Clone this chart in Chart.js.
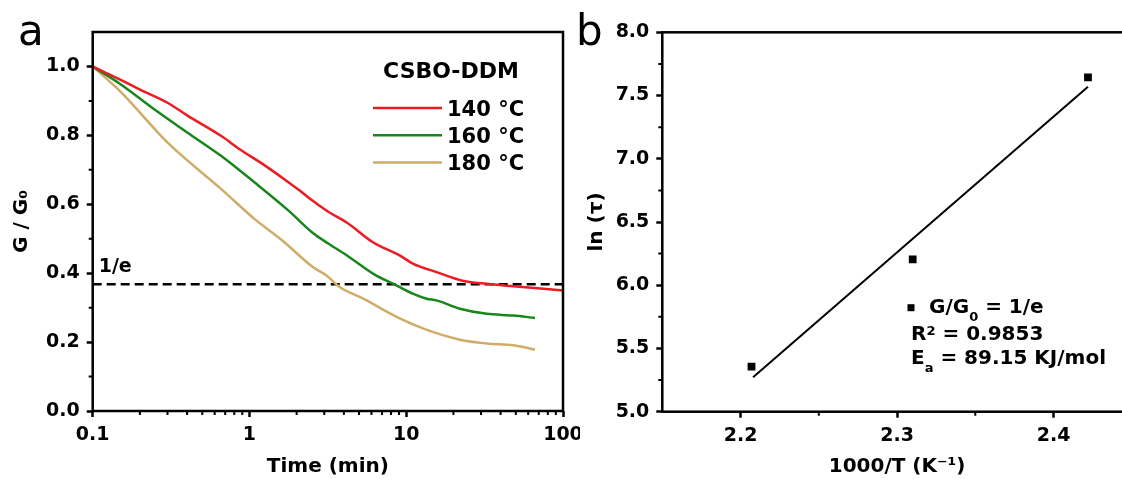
<!DOCTYPE html>
<html>
<head>
<meta charset="utf-8">
<script src="https://cdn.jsdelivr.net/npm/chart.js@4.4.1/dist/chart.umd.min.js"></script>
<style>
    html, body { margin: 0; padding: 0; background: #fff; overflow: hidden; width: 1122px; height: 479px; }
    .panel { position: absolute; top: 0; height: 479px; overflow: hidden; }
    .panel > div { position: relative; height: 479px; }
    #panel-a { left: 0; width: 580px; }
    #panel-a > div { width: 600px; }
    #panel-b { left: 560px; width: 580px; }
    #panel-b > div { width: 580px; }
</style>
</head>
<body>
<div class="panel" id="panel-a"><div><canvas id="chartA"></canvas></div></div>
<div class="panel" id="panel-b"><div><canvas id="chartB"></canvas></div></div>

<script>
// ─── Panel a: G/G0 relaxation curves ──────────────────────────────────────────
const legendTitleA = 'CSBO-DDM';
const seriesLabels = ['140 °C', '160 °C', '180 °C'];
const seriesColors = ['#ec1c24', '#17861c', '#cfad67'];

const time140 = [0.1, 0.152, 0.2, 0.302, 0.4, 0.661, 0.87, 1.25, 1.7, 2.1, 2.48, 2.96, 3.16, 4.17, 6.17, 9.12, 11.1, 15.6, 22.5, 32.6, 48.2, 100];
const ratio140 = [1.0, 0.960, 0.933, 0.894, 0.858, 0.798, 0.759, 0.713, 0.670, 0.639, 0.613, 0.588, 0.579, 0.547, 0.489, 0.451, 0.427, 0.403, 0.379, 0.369, 0.362, 0.350];

const time160 = [0.1, 0.152, 0.248, 0.405, 0.661, 1.08, 1.76, 2.55, 3.16, 4.17, 6.17, 8.69, 11.1, 13.5, 15.6, 22.0, 32.6, 48.2, 66.2];
const ratio160 = [1.0, 0.947, 0.875, 0.807, 0.740, 0.663, 0.583, 0.516, 0.487, 0.452, 0.398, 0.364, 0.340, 0.326, 0.321, 0.297, 0.282, 0.277, 0.270];

const time180 = [0.1, 0.152, 0.302, 0.661, 1.08, 1.6, 2.55, 3.10, 3.78, 5.32, 8.69, 12.9, 22.0, 32.6, 48.2, 66.2];
const ratio180 = [1.0, 0.925, 0.778, 0.644, 0.557, 0.497, 0.417, 0.393, 0.359, 0.326, 0.273, 0.239, 0.207, 0.196, 0.191, 0.178];

const oneOverE = 0.368;
const refLineX = [0.1, 100];
const ticksXA = [0.1, 1, 10, 100];
const minorXA = [0.2, 0.3, 0.4, 0.5, 0.6, 0.7, 0.8, 0.9, 2, 3, 4, 5, 6, 7, 8, 9, 20, 30, 40, 50, 60, 70, 80, 90];
const minorYA = [0.1, 0.3, 0.5, 0.7, 0.9];

// ─── Panel b: Arrhenius fit ───────────────────────────────────────────────────
const invTemp = [2.207, 2.310, 2.422];
const lnTau = [5.356, 6.205, 7.643];
const fitX = [2.208, 2.422];
const fitY = [5.272, 7.569];
const ticksXB = [2.2, 2.3, 2.4];
const minorXB = [2.25, 2.35];
const minorYB = [5.25, 5.75, 6.25, 6.75, 7.25, 7.75];
const rSquared = '0.9853';
const activationEnergy = '89.15 KJ/mol';

const FONT = '"DejaVu Sans", sans-serif';
const tickFont = { family: FONT, size: 19, weight: 'bold' };
const titleFont = { family: FONT, size: 20, weight: 'bold' };

const pairs = (xs, ys) => xs.map((x, i) => ({ x, y: ys[i] }));

// text with sub/superscript pieces, drawn left to right
function drawRich(ctx, parts, x, y, size) {
    parts.forEach(([txt, kind]) => {
        const s = kind ? Math.round(size * 0.65) : size;
        const dy = kind === 'sub' ? size * 0.42 : kind === 'sup' ? -size * 0.27 : 0;
        ctx.font = `bold ${s}px ${FONT}`;
        ctx.fillText(txt, x, y + dy);
        x += ctx.measureText(txt).width;
    });
}

// box around the plot + short minor ticks
const framePlugin = {
    id: 'frame',
    afterDraw(chart, args, opts) {
        const { ctx, chartArea: a, scales } = chart;
        ctx.save();
        ctx.strokeStyle = '#000';
        ctx.lineWidth = 2.5;
        ctx.strokeRect(a.left, a.top, a.right - a.left, a.bottom - a.top);
        ctx.lineWidth = 2;
        ctx.beginPath();
        (opts.minorX || []).forEach(v => {
            const p = scales.x.getPixelForValue(v);
            ctx.moveTo(p, a.bottom);
            ctx.lineTo(p, a.bottom + 4);
        });
        (opts.minorY || []).forEach(v => {
            const p = scales.y.getPixelForValue(v);
            ctx.moveTo(a.left - 4, p);
            ctx.lineTo(a.left, p);
        });
        ctx.stroke();
        ctx.restore();
    }
};

function axisStyle(extra) {
    return Object.assign({
        border: { display: false },
        grid: { drawOnChartArea: false, tickLength: 6, tickWidth: 2.5, tickColor: '#000' },
    }, extra);
}

// ─── Chart a ──────────────────────────────────────────────────────────────────
const annotA = {
    id: 'annotA',
    afterDraw(chart) {
        const { ctx, chartArea: a, scales } = chart;
        ctx.save();
        ctx.fillStyle = '#000';
        ctx.textBaseline = 'alphabetic';
        ctx.textAlign = 'left';
        ctx.font = `42px ${FONT}`;
        ctx.fillText('a', 18, 45);

        ctx.font = `bold 19px ${FONT}`;
        ctx.fillText('1/e', a.left + 6, scales.y.getPixelForValue(oneOverE) - 12);

        ctx.font = `bold 22px ${FONT}`;
        ctx.textAlign = 'center';
        ctx.fillText(legendTitleA, a.right - 112, a.top + 46);

        ctx.textAlign = 'left';
        ctx.font = `bold 21px ${FONT}`;
        seriesLabels.forEach((lab, i) => {
            const y = a.top + 76 + i * 27.3;
            ctx.strokeStyle = seriesColors[i];
            ctx.lineWidth = 2.5;
            ctx.beginPath();
            ctx.moveTo(a.right - 190, y);
            ctx.lineTo(a.right - 121, y);
            ctx.stroke();
            ctx.fillText(lab, a.right - 116, y + 7.5);
        });
        ctx.restore();
    }
};

const curvesA = [[time140, ratio140], [time160, ratio160], [time180, ratio180]];

new Chart(document.getElementById('chartA'), {
    type: 'line',
    data: {
        datasets: [
            ...curvesA.map(([xs, ys], i) => ({
                label: seriesLabels[i],
                data: pairs(xs, ys),
                borderColor: seriesColors[i],
                borderWidth: 2.5,
                pointRadius: 0,
                cubicInterpolationMode: 'monotone'
            })),
            {
                label: '1/e',
                data: pairs(refLineX, refLineX.map(() => oneOverE)),
                borderColor: '#000',
                borderWidth: 2.5,
                borderDash: [9, 5],
                pointRadius: 0
            }
        ]
    },
    options: {
        responsive: true,
        maintainAspectRatio: false,
        animation: false,
        layout: { padding: { left: 0, right: 37, top: 32, bottom: 0 } },
        plugins: {
            legend: { display: false },
            tooltip: { enabled: false },
            frame: { minorX: minorXA, minorY: minorYA }
        },
        scales: {
            x: axisStyle({
                type: 'logarithmic',
                min: 0.1,
                max: 100,
                afterBuildTicks: s => { s.ticks = ticksXA.map(v => ({ value: v, major: true })); },
                afterFit: s => { s.height = 68; },
                ticks: { color: '#000', font: tickFont, padding: 7, maxRotation: 0, autoSkip: false, callback: v => String(v) },
                title: { display: true, text: 'Time (min)', color: '#000', font: titleFont, padding: { top: 0, bottom: 0 } }
            }),
            y: axisStyle({
                min: 0,
                max: 1.1,
                afterFit: s => { s.width = 92.7; },
                ticks: { color: '#000', font: tickFont, padding: 7, stepSize: 0.2, includeBounds: false, callback: v => v.toFixed(1) },
                title: { display: true, text: 'G / G₀', color: '#000', font: titleFont, padding: { top: 10, bottom: 0 } }
            })
        }
    },
    plugins: [framePlugin, annotA]
});

// ─── Chart b ──────────────────────────────────────────────────────────────────
const annotB = {
    id: 'annotB',
    afterDraw(chart) {
        const { ctx, chartArea: a } = chart;
        ctx.save();
        ctx.fillStyle = '#000';
        ctx.textBaseline = 'alphabetic';
        ctx.textAlign = 'left';
        ctx.font = `42px ${FONT}`;
        ctx.fillText('b', 16, 45);

        const x0 = a.left + 248.7;
        ctx.fillRect(x0 - 3.5, a.bottom - 104 - 3.5, 7, 7);
        drawRich(ctx, [['G/G'], ['0', 'sub'], [' = 1/e']], x0 + 18, a.bottom - 98.7, 20);
        drawRich(ctx, [['R'], ['2', 'sup'], [' = ' + rSquared]], x0, a.bottom - 71.7, 20);
        drawRich(ctx, [['E'], ['a', 'sub'], [' = ' + activationEnergy]], x0, a.bottom - 47.7, 20);
        ctx.restore();
    }
};

new Chart(document.getElementById('chartB'), {
    type: 'scatter',
    data: {
        datasets: [
            {
                label: 'G/G0 = 1/e',
                data: pairs(invTemp, lnTau),
                pointStyle: 'rect',
                pointRadius: 5.5,
                backgroundColor: '#000',
                borderColor: '#000',
                borderWidth: 0
            },
            {
                label: 'fit',
                data: pairs(fitX, fitY),
                showLine: true,
                borderColor: '#000',
                borderWidth: 2,
                pointRadius: 0
            }
        ]
    },
    options: {
        responsive: true,
        maintainAspectRatio: false,
        animation: false,
        layout: { padding: { left: 0, right: 8.2, top: 32.3, bottom: 0 } },
        plugins: {
            legend: { display: false },
            tooltip: { enabled: false },
            frame: { minorX: minorXB, minorY: minorYB }
        },
        scales: {
            x: axisStyle({
                type: 'linear',
                min: 2.15,
                max: 2.45,
                afterBuildTicks: s => { s.ticks = ticksXB.map(v => ({ value: v })); },
                afterFit: s => { s.height = 67.3; },
                ticks: { color: '#000', font: tickFont, padding: 7, maxRotation: 0, autoSkip: false, callback: v => v.toFixed(1) },
                title: { display: true, text: '1000/T (K⁻¹)', color: '#000', font: titleFont, padding: { top: 0, bottom: 0 } }
            }),
            y: axisStyle({
                min: 5,
                max: 8,
                afterFit: s => { s.width = 102.3; },
                ticks: { color: '#000', font: tickFont, padding: 7, stepSize: 0.5, callback: v => v.toFixed(1) },
                title: { display: true, text: 'ln (τ)', color: '#000', font: titleFont, padding: { top: 25, bottom: 0 } }
            })
        }
    },
    plugins: [framePlugin, annotB]
});
</script>
</body>
</html>
